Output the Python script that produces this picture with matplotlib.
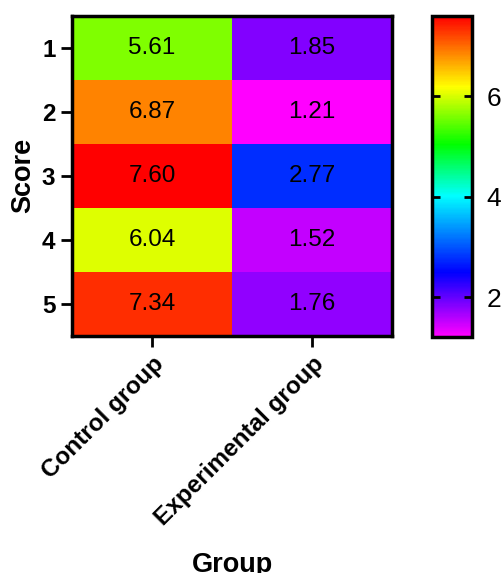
import numpy as np
import matplotlib
matplotlib.use('Agg')
import matplotlib.pyplot as plt
from matplotlib.colors import LinearSegmentedColormap

plt.rcParams['font.family'] = ['Liberation Sans', 'DejaVu Sans']

groups = ['Control group', 'Experimental group']
scores = ['1', '2', '3', '4', '5']
control = [5.61, 6.87, 7.60, 6.04, 7.34]
experimental = [1.85, 1.21, 2.77, 1.52, 1.76]

data = np.array([control, experimental]).T

# rainbow running magenta -> blue -> cyan -> green -> yellow -> red
cmap = LinearSegmentedColormap.from_list('rb', [
    (0.0, '#FF00FF'),
    (0.2, '#0000FF'),
    (0.44, '#00FFFF'),
    (0.60, '#00FF00'),
    (0.78, '#FFFF00'),
    (1.0, '#FF0000'),
])
vmin, vmax = data.min(), data.max()

fig = plt.figure(figsize=(5.04, 5.73), dpi=100)
ax = fig.add_axes([0.143, 0.414, 0.635, 0.558])
cax = fig.add_axes([0.857, 0.412, 0.080, 0.560])

im = ax.imshow(data, cmap=cmap, vmin=vmin, vmax=vmax, aspect='auto',
               interpolation='nearest')

for i in range(data.shape[0]):
    for j in range(data.shape[1]):
        ax.text(j, i, f'{data[i, j]:.2f}', ha='center', va='center',
                fontsize=17.5, color='black')

ax.set_xticks(range(len(groups)))
ax.set_xticklabels(groups, rotation=45, ha='right', rotation_mode='anchor',
                   fontsize=17.5, fontweight='bold')
ax.set_yticks(range(len(scores)))
ax.set_yticklabels(scores, fontsize=17.5, fontweight='bold')
ax.tick_params(axis='both', length=8, width=2, direction='out', pad=4)
for s in ax.spines.values():
    s.set_linewidth(2.5)
ax.set_ylabel('Score', fontsize=19.5, fontweight='bold', labelpad=4)
ax.set_xlabel('Group', fontsize=19.5, fontweight='bold', labelpad=16)

cb = fig.colorbar(im, cax=cax, ticks=[2, 4, 6])
cb.outline.set_linewidth(2.5)
cax.tick_params(axis='y', direction='in', length=6, width=2, left=True,
                right=True, labelsize=19, pad=10)

fig.savefig('out.png', dpi=100)
